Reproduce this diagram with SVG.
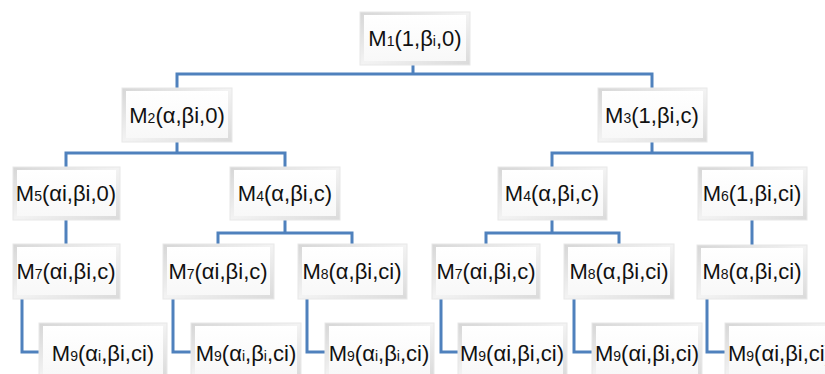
<svg xmlns="http://www.w3.org/2000/svg" width="825" height="374" viewBox="0 0 825 374">
<defs>
<linearGradient id="bev" x1="0" y1="0" x2="1" y2="1">
<stop offset="0" stop-color="#d6d6d6"/>
<stop offset="0.5" stop-color="#f3f3f3"/>
<stop offset="1" stop-color="#dadada"/>
</linearGradient>
<linearGradient id="face" x1="0" y1="0" x2="0" y2="1">
<stop offset="0" stop-color="#ffffff"/>
<stop offset="1" stop-color="#f8f8f8"/>
</linearGradient>
</defs>
<style>
.o{fill:url(#bev);stroke:#e8e8e8;stroke-width:1}
.f{fill:url(#face)}
.t{font-family:"Liberation Sans",Arial,sans-serif;font-size:22px;fill:#111;text-anchor:middle}
.s{font-size:14px}
.c{fill:none;stroke:#4f81bd;stroke-width:3}
</style>
<g id="connectors">
<path class="c" d="M413 65V74M177 88V74H652V88"/>
<path class="c" d="M177 142V153M66 167V153H285V167"/>
<path class="c" d="M652 142V153M552 167V153H752V167"/>
<path class="c" d="M66 220V244"/>
<path class="c" d="M285 220V233M218 244V233H352V244"/>
<path class="c" d="M552 220V233M486 244V233H619V244"/>
<path class="c" d="M752 220V245"/>
<path class="c" d="M22 299V352H39"/>
<path class="c" d="M173 299V352H191"/>
<path class="c" d="M307 299V352H325"/>
<path class="c" d="M441 299V352H458"/>
<path class="c" d="M574 299V352H592"/>
<path class="c" d="M707 299V352H725"/>
</g>
<g id="M1"><rect class="o" x="360" y="12" width="110" height="53"/><rect class="f" x="364" y="15" width="102" height="46"/><text class="t" x="415" y="46">M<tspan class="s">1</tspan>(1,β<tspan class="s">i</tspan>,0)</text></g>
<g id="M2"><rect class="o" x="122" y="88" width="110" height="54"/><rect class="f" x="126" y="91" width="102" height="47"/><text class="t" x="177" y="123">M<tspan class="s">2</tspan>(α,βi,0)</text></g>
<g id="M3"><rect class="o" x="598" y="88" width="109" height="54"/><rect class="f" x="602" y="91" width="101" height="47"/><text class="t" x="652" y="123">M<tspan class="s">3</tspan>(1,βi,c)</text></g>
<g id="M5"><rect class="o" x="13" y="167" width="107" height="53"/><rect class="f" x="17" y="170" width="99" height="46"/><text class="t" x="66" y="201">M<tspan class="s">5</tspan>(αi,βi,0)</text></g>
<g id="M4a"><rect class="o" x="230" y="167" width="110" height="53"/><rect class="f" x="234" y="170" width="102" height="46"/><text class="t" x="285" y="201">M<tspan class="s">4</tspan>(α,βi,c)</text></g>
<g id="M4b"><rect class="o" x="498" y="167" width="109" height="53"/><rect class="f" x="502" y="170" width="101" height="46"/><text class="t" x="552" y="201">M<tspan class="s">4</tspan>(α,βi,c)</text></g>
<g id="M6"><rect class="o" x="698" y="167" width="109" height="53"/><rect class="f" x="702" y="170" width="101" height="46"/><text class="t" x="752" y="201">M<tspan class="s">6</tspan>(1,βi,ci)</text></g>
<g id="M7a"><rect class="o" x="13" y="244" width="107" height="55"/><rect class="f" x="17" y="247" width="99" height="48"/><text class="t" x="66" y="279">M<tspan class="s">7</tspan>(αi,βi,c)</text></g>
<g id="M7b"><rect class="o" x="163" y="244" width="111" height="55"/><rect class="f" x="167" y="247" width="103" height="48"/><text class="t" x="218" y="279">M<tspan class="s">7</tspan>(αi,βi,c)</text></g>
<g id="M8b"><rect class="o" x="298" y="244" width="109" height="55"/><rect class="f" x="302" y="247" width="101" height="48"/><text class="t" x="352" y="279">M<tspan class="s">8</tspan>(α,βi,ci)</text></g>
<g id="M7c"><rect class="o" x="432" y="244" width="108" height="55"/><rect class="f" x="436" y="247" width="100" height="48"/><text class="t" x="486" y="279">M<tspan class="s">7</tspan>(αi,βi,c)</text></g>
<g id="M8c"><rect class="o" x="564" y="244" width="110" height="55"/><rect class="f" x="568" y="247" width="102" height="48"/><text class="t" x="619" y="279">M<tspan class="s">8</tspan>(α,βi,ci)</text></g>
<g id="M8d"><rect class="o" x="697" y="245" width="110" height="54"/><rect class="f" x="701" y="248" width="102" height="47"/><text class="t" x="752" y="279">M<tspan class="s">8</tspan>(α,βi,ci)</text></g>
<g id="M9a"><rect class="o" x="39" y="323" width="128" height="54"/><rect class="f" x="43" y="326" width="120" height="48"/><text class="t" x="103" y="361">M<tspan class="s">9</tspan>(α<tspan class="s">i</tspan>,βi,ci)</text></g>
<g id="M9b"><rect class="o" x="191" y="323" width="110" height="54"/><rect class="f" x="195" y="326" width="102" height="48"/><text class="t" x="246" y="361">M<tspan class="s">9</tspan>(α<tspan class="s">i</tspan>,β<tspan class="s">i</tspan>,ci)</text></g>
<g id="M9c"><rect class="o" x="325" y="323" width="109" height="54"/><rect class="f" x="329" y="326" width="101" height="48"/><text class="t" x="379" y="361">M<tspan class="s">9</tspan>(α<tspan class="s">i</tspan>,β<tspan class="s">i</tspan>,ci)</text></g>
<g id="M9d"><rect class="o" x="458" y="323" width="109" height="54"/><rect class="f" x="462" y="326" width="101" height="48"/><text class="t" x="512" y="361">M<tspan class="s">9</tspan>(αi,βi,ci)</text></g>
<g id="M9e"><rect class="o" x="592" y="323" width="110" height="54"/><rect class="f" x="596" y="326" width="102" height="48"/><text class="t" x="647" y="361">M<tspan class="s">9</tspan>(αi,βi,ci)</text></g>
<g id="M9f"><rect class="o" x="725" y="323" width="110" height="54"/><rect class="f" x="729" y="326" width="102" height="48"/><text class="t" x="780" y="361">M<tspan class="s">9</tspan>(αi,βi,ci)</text></g>
</svg>
